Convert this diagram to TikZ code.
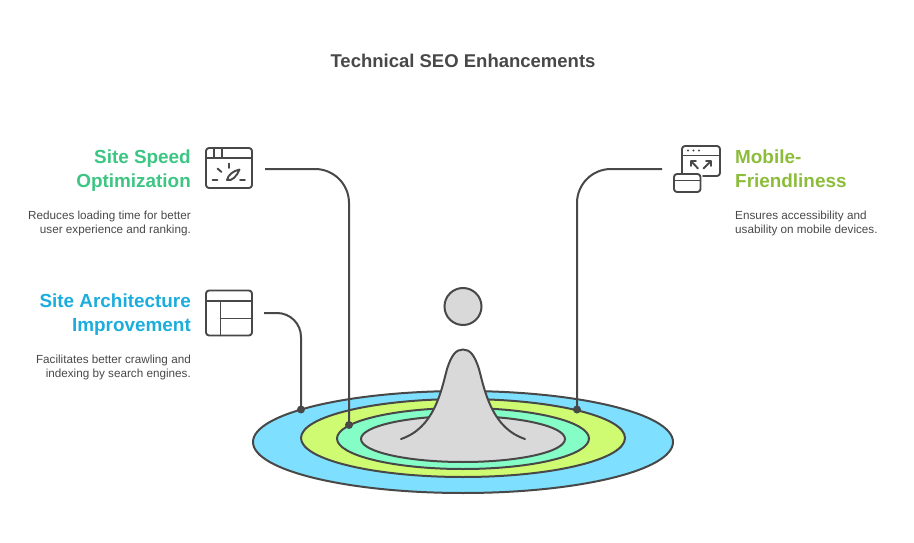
\documentclass[tikz,border=0pt]{standalone}
\usepackage{fontspec}
\setmainfont{Liberation Sans}
\definecolor{ink}{HTML}{484848}
\definecolor{speed}{HTML}{3CC583}
\definecolor{arch}{HTML}{1CADDD}
\definecolor{mobile}{HTML}{8CBD3A}
\definecolor{ringA}{HTML}{7EDFFF}
\definecolor{ringB}{HTML}{CFFB72}
\definecolor{ringC}{HTML}{85FDC6}
\definecolor{peak}{HTML}{D9D9D9}
\tikzset{ring/.style={draw=ink,line width=2pt}}
\tikzset{link/.style={draw=ink,line width=2pt}}
\tikzset{icon/.style={draw=ink,line width=1.9pt,line cap=round,line join=round}}
\tikzset{dot/.style={circle,fill=ink,inner sep=0pt,minimum size=8pt}}
\tikzset{head/.style={font=\bfseries\fontsize{18.9}{24}\selectfont,inner sep=0pt}}
\tikzset{blurbL/.style={text=ink,font=\fontsize{11.7}{14}\selectfont,align=right,inner sep=0pt,anchor=north east}}
\tikzset{blurbR/.style={text=ink,font=\fontsize{11.7}{14}\selectfont,align=left,inner sep=0pt,anchor=north west}}
\begin{document}
\begin{tikzpicture}[x=1pt,y=-1pt]
\useasboundingbox (0,0) rectangle (914,543);

\node[font=\bfseries\fontsize{18.5}{24}\selectfont,text=ink,inner sep=0pt] (title) at (463,61) {Technical SEO Enhancements};

% rings
\draw[ring,fill=ringA] (463,442) ellipse [x radius=210,y radius=51];
\draw[ring,fill=ringB] (463,438) ellipse [x radius=162,y radius=39];
\draw[ring,fill=ringC] (463,438.5) ellipse [x radius=126,y radius=30.5];
\draw[ring,fill=peak] (463,439) ellipse [x radius=102,y radius=23];
\draw[ring,fill=peak] (463,306.5) circle (18.5);
\fill[peak] (401,439) .. controls (434,428) and (441,392) .. (447,369) .. controls (451.5,355) and (456,349.5) .. (463,349.5) .. controls (470,349.5) and (474.5,355) .. (479,369) .. controls (485,392) and (492,428) .. (525,439) -- cycle;
\draw[ring,line cap=round] (401,439) .. controls (434,428) and (441,392) .. (447,369) .. controls (451.5,355) and (456,349.5) .. (463,349.5) .. controls (470,349.5) and (474.5,355) .. (479,369) .. controls (485,392) and (492,428) .. (525,439);

% labels
\node[head,text=speed,anchor=north east,align=right] (speedHead) at (191,150) {Site Speed\\Optimization};
\node[blurbL] (speedText) at (191,211) {Reduces loading time for better\\user experience and ranking.};
\node[head,text=arch,anchor=north east,align=right] (archHead) at (191,294) {Site Architecture\\Improvement};
\node[blurbL] (archText) at (191,355) {Facilitates better crawling and\\indexing by search engines.};
\node[head,text=mobile,anchor=north west,align=left] (mobileHead) at (735,150) {Mobile-\\Friendliness};
\node[blurbR] (mobileText) at (735,211) {Ensures accessibility and\\usability on mobile devices.};

% connectors
\coordinate (speedOut) at (265,169);
\coordinate (archOut) at (264,313);
\coordinate (mobileOut) at (662,169);
\node[dot] (speedDot) at (349,425) {};
\node[dot] (archDot) at (301,409.5) {};
\node[dot] (mobileDot) at (577,409.5) {};
\draw[link,rounded corners=34pt] (speedOut) -| (speedDot.center);
\draw[link,rounded corners=24pt] (archOut) -| (archDot.center);
\draw[link,rounded corners=34pt] (mobileOut) -| (mobileDot.center);

% speed icon
\draw[icon,rounded corners=3pt] (206,148) rectangle (252,188);
\draw[icon] (206,158) -- (252,158) (214,148) -- (214,158) (222,148) -- (222,158);
\draw[icon] (229,163.5) -- (229,168) (217.5,168.5) -- (221.5,172) (212.5,180) -- (217.5,180) (240,180) -- (245,180);
\draw[icon,line join=round] (239.5,169.5) .. controls (233,171) and (228,175) .. (227,180) .. controls (232,181.5) and (237,176) .. (239.5,169.5) -- cycle;

% architecture icon
\draw[icon,rounded corners=3pt] (206,290.5) rectangle (252,335.5);
\draw[icon] (206,301) -- (252,301) (220.5,301) -- (220.5,335.5) (220.5,318.5) -- (252,318.5);

% mobile icon
\draw[icon,rounded corners=3pt] (682,173) -- (682,146) -- (720,146) -- (720,176) -- (703,176);
\draw[icon] (682,155.5) -- (720,155.5);
\fill[ink] (688,150.5) circle (1.1) (693.5,150.5) circle (1.1) (699,150.5) circle (1.1);
\draw[icon] (698,168.5) -- (691,161) (691,166) -- (691,161) -- (696,161);
\draw[icon] (703.5,168.5) -- (711,161) (706,161) -- (711,161) -- (711,166);
\draw[icon,rounded corners=3pt] (674,174) rectangle (700.5,192);
\draw[icon] (674,180.5) -- (700.5,180.5);
\end{tikzpicture}
\end{document}
